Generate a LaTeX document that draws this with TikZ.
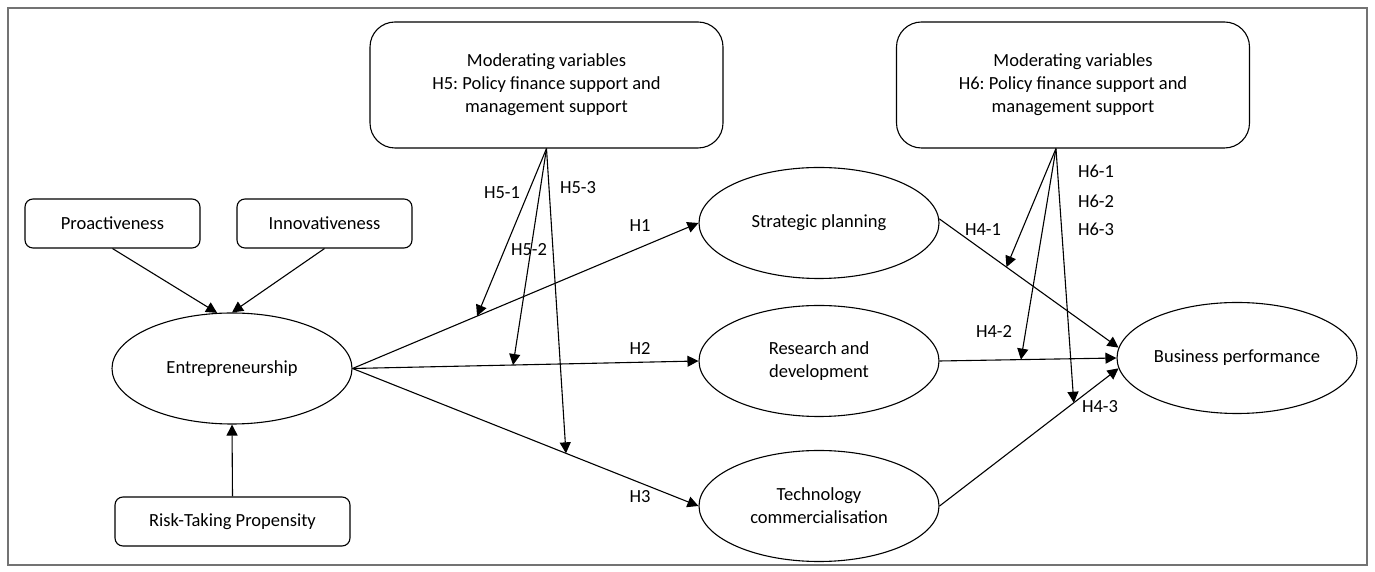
\documentclass[tikz,border=0pt]{standalone}
\usepackage{fontspec}
\setmainfont{Carlito}
\usetikzlibrary{arrows.meta,shapes.geometric}
\frenchspacing

\tikzset{
	box/.style={draw, rounded corners=4pt, minimum width=87.5pt, minimum height=24.5pt, inner sep=0pt},
	modbox/.style={draw, rounded corners=12.5pt, minimum width=176.5pt, minimum height=63pt, align=center, inner sep=0pt},
	oval/.style={draw, ellipse, minimum width=120pt, minimum height=55.5pt, align=center, inner sep=0pt},
	link/.style={-{Triangle[length=5.5pt,width=5.5pt]}},
	lbl/.style={inner sep=0pt},
}

\begin{document}
\begin{tikzpicture}[x=0.5pt, y=0.5pt, line width=0.55pt, font=\fontsize{9.25}{11.5}\selectfont]
			\useasboundingbox (0,0) rectangle (1375,572);
			\draw[black!55, line width=0.7pt] (8,7) rectangle (1367,564);
			\node[box] (pro) at (112.5,348.5) {Proactiveness};
			\node[box] (inn) at (324.5,348.5) {Innovativeness};
			\node[box, minimum width=117.5pt] (risk) at (232.5,50.5) {Risk-Taking Propensity};
			\node[oval] (ent) at (232,203.5) {Entrepreneurship};
			\node[modbox] (m5) at (546.5,487) {Moderating variables\\H5: Policy finance support and\\management support};
			\node[modbox] (m6) at (1073,487) {Moderating variables\\H6: Policy finance support and\\management support};
			\node[oval] (sp) at (819,349) {Strategic planning};
			\node[oval] (rd) at (819,211) {Research and\\development};
			\node[oval] (tc) at (819,66) {Technology\\commercialisation};
			\node[oval] (bp) at (1237,214) {Business performance};
			\draw[link] (pro.south) -- (ent.105);
			\draw[link] (inn.south) -- (ent.north);
			\draw[link] (risk.north) -- (ent.south);
			\draw[link] (ent.east) -- coordinate[pos=0.36] (p1) (sp.west);
			\draw[link] (ent.east) -- coordinate[pos=0.464] (p2) (rd.west);
			\draw[link] (ent.east) -- coordinate[pos=0.617] (p3) (tc.west);
			\draw[link] (sp.2) -- coordinate[pos=0.375] (q1) (bp.175);
			\draw[link] (rd.east) -- coordinate[pos=0.46] (q2) (bp.west);
			\draw[link] (tc.east) -- coordinate[pos=0.75] (q3) (bp.185);
			\draw[link] (m5.south) -- (p1);
			\draw[link] (m5.south) -- (p2);
			\draw[link] (m5.south) -- (p3);
			\draw[link] (m6.-105) -- (q1);
			\draw[link] (m6.-105) -- (q2);
			\draw[link] (m6.-105) -- (q3);
			\node[lbl] (h51) at (502,379) {H5-1};
			\node[lbl] (h52) at (529,322) {H5-2};
			\node[lbl] (h53) at (578,384) {H5-3};
			\node[lbl] (h1) at (640,346) {H1};
			\node[lbl] (h2) at (640,223) {H2};
			\node[lbl] (h3) at (640,75) {H3};
			\node[lbl] (h41) at (983,342) {H4-1};
			\node[lbl] (h42) at (994,240) {H4-2};
			\node[lbl] (h43) at (1100,165) {H4-3};
			\node[lbl] (h61) at (1096,401) {H6-1};
			\node[lbl] (h62) at (1096,371) {H6-2};
			\node[lbl] (h63) at (1096,343) {H6-3};
		\end{tikzpicture}
\end{document}
